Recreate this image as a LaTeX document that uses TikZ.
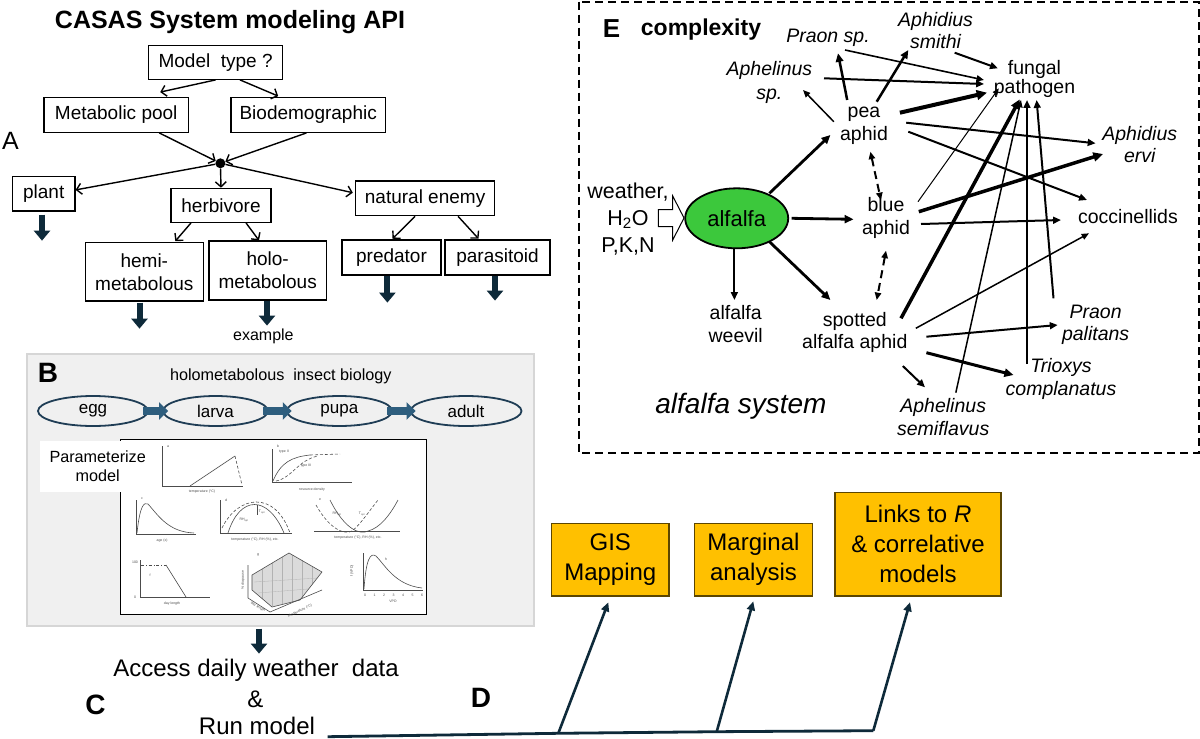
\documentclass[tikz,border=0pt]{standalone}
\usepackage{fontspec}
\setmainfont{Liberation Sans}
\usetikzlibrary{arrows.meta,calc,shapes.geometric}
\definecolor{navy}{HTML}{0E2A3A}
\definecolor{navytwo}{HTML}{1F3D55}
\definecolor{tealtwo}{HTML}{2E5E7E}
\definecolor{grayf}{HTML}{F0F0F0}
\definecolor{grayb}{HTML}{D6D6D6}
\definecolor{orangeY}{HTML}{FFC000}
\definecolor{obord}{HTML}{5C4600}
\definecolor{greenA}{HTML}{3CC83C}
\begin{document}
\begin{tikzpicture}[x=1pt,y=-1pt,
 box/.style={draw=black,line width=1.2pt,fill=white,inner sep=0pt,align=center,font=\fontsize{19}{23}\selectfont},
 aarr/.style={line width=1.4pt,-{Straight Barb[length=5pt,width=11pt]}},
 blockdown/.style={draw=navy,line width=6pt,-{Triangle[length=10pt,width=16pt]}},
 stagearr/.style={draw=tealtwo,line width=8pt,-{Triangle[length=9pt,width=17pt]}},
 stage/.style={ellipse,draw=navytwo,line width=1.8pt,inner sep=0pt,font=\fontsize{17}{20}\selectfont},
 obox/.style={draw=obord,fill=orangeY,line width=1.2pt,inner sep=0pt,align=center,font=\fontsize{24}{30}\selectfont},
 darr/.style={draw=navy,line width=2.6pt,-{Triangle[length=9pt,width=8pt]}},
 elab/.style={align=center,inner sep=0pt,font=\fontsize{19.5}{22.5}\selectfont},
 eit/.style={align=center,inner sep=0pt,font=\fontsize{19.5}{22.5}\selectfont\itshape},
 earr/.style={-{Triangle[length=5.5pt 1.2,width=4pt 1.4]}},
 edash/.style={{Triangle[length=5pt 1.2,width=3.5pt 1.4]}-{Triangle[length=5pt 1.2,width=3.5pt 1.4]},line width=2pt,dash pattern=on 8pt off 5pt},
 plotline/.style={draw=black!70,line width=0.6pt},
 tiny/.style={font=\fontsize{3.5}{4}\selectfont,inner sep=0pt,text=black!70}
]
\useasboundingbox (0,0) rectangle (1200,739);
\fill[white] (0,0) rectangle (1200,739);

% ---------------- Panel A
\node[font=\bfseries\fontsize{25}{28}\selectfont] (title) at (230,21.7) {CASAS System modeling API};
\node[font=\fontsize{25}{28}\selectfont] (labA) at (10.5,141) {A};
\node[box,minimum width=133.6pt,minimum height=34pt] (mt) at (215.6,62.3) {Model\ \ type ?};
\node[box,minimum width=144.3pt,minimum height=34.6pt] (mp) at (116.2,115) {Metabolic pool};
\node[box,minimum width=154.3pt,minimum height=34.6pt] (bd) at (308.2,115) {Biodemographic};
\node[circle,fill=black,inner sep=0pt,minimum size=10pt] (dot) at (220.4,163.3) {};
\node[box,minimum width=62.6pt,minimum height=34.3pt] (plant) at (43.7,193.9) {plant};
\node[box,minimum width=100pt,minimum height=34pt] (herb) at (221,205.3) {herbivore};
\node[box,minimum width=139.4pt,minimum height=34.7pt] (ne) at (425.1,198.4) {natural enemy};
\node[box,minimum width=117.8pt,minimum height=58.3pt] (hemi) at (144.3,271.9) {hemi-\\metabolous};
\node[box,minimum width=117.4pt,minimum height=59pt] (holo) at (267.7,270.5) {holo-\\metabolous};
\node[box,minimum width=99pt,minimum height=35pt] (pred) at (391.5,257.5) {predator};
\node[box,minimum width=105pt,minimum height=35pt] (para) at (497.5,257.5) {parasitoid};

\draw[aarr] (mt.south) -- ([shift={(44,-5)}]mp.north);
\draw[aarr] ([shift={(24.4,0)}]mt.south) -- ([shift={(-30,-1)}]bd.north);
\draw[aarr] ([shift={(43,0)}]mp.south) -- (dot);
\draw[aarr] ([shift={(-1.7,0)}]bd.south) -- (dot);
\draw[aarr] (dot) -- ([shift={(0,-4)}]plant.east);
\draw[aarr] (dot) -- (herb.north);
\draw[aarr] (dot) -- ([shift={(-2,-5.7)}]ne.west);
\draw[aarr] ([shift={(-30,0)}]herb.south) -- ([shift={(31,-1)}]hemi.north);
\draw[aarr] ([shift={(25,0)}]herb.south) -- ([shift={(-8.7,0)}]holo.north);
\draw[aarr] ([shift={(-10,0)}]ne.south) -- ([shift={(1,-0.7)}]pred.north);
\draw[aarr] ([shift={(33,0)}]ne.south) -- ([shift={(-19,-0.7)}]para.north);

\draw[blockdown] ([shift={(-1.7,3)}]plant.south) -- ++(0,26);
\draw[blockdown] ([shift={(-4.8,1)}]hemi.south) -- ++(0,26);
\draw[blockdown] ([shift={(-0.7,0)}]holo.south) -- ++(0,25);
\draw[blockdown] ([shift={(-4.1,0)}]pred.south) -- ++(0,27);
\draw[blockdown] ([shift={(-2.5,0)}]para.south) -- ++(0,25);
\node[font=\fontsize{16}{18}\selectfont] (example) at (263.4,336.7) {example};

% ---------------- Panel B
\node[draw=grayb,fill=grayf,line width=1.8pt,minimum width=507.4pt,minimum height=271.7pt,inner sep=0pt] (panelB) at (280.3,489.85) {};
\node[font=\bfseries\fontsize{28}{30}\selectfont] (labB) at (48,372.5) {B};
\node[font=\fontsize{16.2}{19}\selectfont] (btitle) at (280.8,376) {holometabolous\ \ insect biology};
\node[stage,minimum width=110pt,minimum height=30pt] (egg) at (93,411) {egg};
\node[stage,minimum width=105pt,minimum height=30pt] (larva) at (215.5,411) {larva};
\node[stage,minimum width=105.5pt,minimum height=30pt] (pupa) at (339.4,411) {pupa};
\node[stage,minimum width=111pt,minimum height=30pt] (adult) at (466,411) {adult};
\draw[stagearr] ([shift={(-6,0)}]egg.east) -- ([shift={(6,0)}]larva.west);
\draw[stagearr] ([shift={(-6,0)}]larva.east) -- ([shift={(6,0)}]pupa.west);
\draw[stagearr] ([shift={(-6,0)}]pupa.east) -- ([shift={(6,0)}]adult.west);

\node[draw=black,fill=white,line width=1.4pt,minimum width=306pt,minimum height=175pt,inner sep=0pt] (graphs) at (273.2,526.8) {};
% plot a
\draw[plotline] (162,446) -- (162,486) -- (243,486);
\draw[plotline] (190,486) -- (235,456);
\draw[plotline,densely dashed] (235,456) -- (242,485);
\node[tiny] at (168,447) {a}; \node[tiny] at (202,492) {temperature (°C)};
% plot b
\draw[plotline] (272,449) -- (272,482) -- (352,482);
\draw[plotline] (273,481) .. controls (281,462) and (292,457) .. (310,455);
\draw[plotline,densely dashed] (310,455) -- (340,454);
\draw[plotline,densely dashed] (276,481) .. controls (292,478) and (298,460) .. (318,456);
\node[tiny] at (278,446) {b}; \node[tiny] at (284,452) {type II}; \node[tiny] at (306,466) {type III};
\node[tiny] at (312,490) {resource density};
% plot c
\draw[plotline] (136,500) -- (136,534) -- (196,534);
\draw[plotline] (137,533) .. controls (140,505) and (144,502) .. (148,504) .. controls (158,515) and (168,532) .. (194,533);
\node[tiny] at (142,499) {c}; \node[tiny] at (162,541) {age (x)};
% plot d
\draw[plotline] (220,500) -- (220,533) -- (292,533);
\draw[plotline] (228,533) .. controls (240,495) and (268,495) .. (284,533);
\draw[plotline,densely dashed] (222,528) .. controls (238,495) and (275,490) .. (290,533);
\draw[plotline] (257,505) -- (257,515);
\node[tiny] at (226,500) {d}; \node[tiny] at (262,512) {T\textsubscript{opt}}; \node[tiny] at (244,520) {RH\textsubscript{opt}};
\node[tiny] at (255,540) {temperature (°C), RH (\%), etc.};
% plot e
\draw[plotline] (314,531) -- (400,531);
\draw[plotline] (330,500) .. controls (345,530) and (360,535) .. (368,531) .. controls (380,528) and (390,515) .. (398,500);
\draw[plotline,densely dashed] (316,505) .. controls (330,530) and (345,535) .. (352,531) .. controls (360,525) and (370,510) .. (378,500);
\node[tiny] at (320,500) {e}; \node[tiny] at (337,514) {RH\textsubscript{opt}}; \node[tiny] at (362,514) {T\textsubscript{opt}};
\node[tiny] at (358,538) {temperature (°C), RH (\%), etc.};
% plot f
\draw[plotline] (140,560) -- (140,597) -- (210,597);
\draw[plotline,dash dot] (141,565) -- (166,565);
\draw[plotline] (166,565) -- (186,597);
\node[tiny] at (135,562) {100}; \node[tiny] at (150,575) {f}; \node[tiny] at (135,597) {0};
\node[tiny] at (172,604) {day length};
% plot g
\fill[black!14] (252,575) -- (289,553) -- (322,572) -- (300,600) -- (272,607) -- (252,590) -- cycle;
\draw[black!30,line width=0.3pt] (262,569) -- (262,599) (272,563) -- (272,606) (282,557) -- (282,604) (292,555) -- (292,602) (302,560) -- (302,598) (312,566) -- (312,584);
\draw[black!30,line width=0.3pt] (254,582) -- (318,578) (258,593) -- (308,589);
\draw[plotline] (252,575) -- (289,553) -- (322,572) -- (300,600) -- (272,607) -- (252,590) -- cycle;
\draw[plotline] (248,565) -- (248,598) -- (270,612) -- (322,590);
\node[tiny] at (258,555) {g}; \node[tiny,rotate=90] at (243,580) {\% diapause};
\node[tiny,rotate=-30] at (258,607) {day length}; \node[tiny,rotate=25] at (300,611) {temperature (°C)};
% plot h
\draw[plotline] (363,553) -- (363,590) -- (423,590);
\draw[plotline] (364,589) .. controls (366,560) and (370,552) .. (376,556) .. controls (385,565) and (395,585) .. (422,588);
\foreach \i in {0,...,6} {\node[tiny] at (365+\i*9.5,595) {\i};}
\node[tiny] at (393,601) {VPD}; \node[tiny] at (386,559) {h}; \node[tiny,rotate=90] at (352,571) {f (VPD)};

\node[fill=white,minimum width=115.4pt,minimum height=50.7pt,align=center,inner sep=0pt,font=\fontsize{16.2}{19.5}\selectfont] (param) at (97.7,466.35) {Parameterize\\model};

\draw[blockdown] ([shift={(-21.3,2)}]panelB.south) -- ++(0,25);

% ---------------- Panel C
\node[font=\fontsize{24}{28}\selectfont] (access) at (256,670) {Access daily weather\ \ data};
\node[font=\fontsize{24}{28}\selectfont] (amp) at (255.3,699) {\&};
\node[font=\fontsize{24}{28}\selectfont] (run) at (257,726) {Run model};
\node[font=\bfseries\fontsize{28}{30}\selectfont] (labC) at (95.4,705) {C};
\node[font=\bfseries\fontsize{28}{30}\selectfont] (labD) at (481,698) {D};

% ---------------- Panel D
\node[obox,minimum width=117.3pt,minimum height=72.7pt] (gis) at (610.3,559.7) {GIS\\Mapping};
\node[obox,minimum width=118.4pt,minimum height=72.7pt] (marg) at (753.5,559.7) {Marginal\\analysis};
\node[obox,minimum width=166pt,minimum height=103.3pt] (links) at (918,544.3) {Links to \textit{R}\\\& correlative\\models};
\coordinate (j1) at (558.3,733.3);
\coordinate (j2) at (716.7,731.7);
\coordinate (j3) at (873.3,730.7);
\draw[navy,line width=2.8pt,line join=round] ([shift={(9,10.7)}]run.east) -- (j1) -- (j2) -- (j3);
\draw[darr] (j1) -- ([shift={(-2,5.7)}]gis.south);
\draw[darr] (j2) -- ([shift={(-0.2,4.7)}]marg.south);
\draw[darr] (j3) -- ([shift={(-8,5.7)}]links.south);

% ---------------- Panel E
\draw[line width=2pt,dash pattern=on 8pt off 5pt] (578.7,1.7) rectangle (1198.7,453.3);
\node[font=\bfseries\fontsize{26}{28}\selectfont] (labE) at (611.5,28.3) {E};
\node[font=\bfseries\fontsize{23}{26}\selectfont] (cx) at (701,30) {complexity};
\node[ellipse,draw=black,fill=greenA,line width=1.8pt,minimum width=103pt,minimum height=60pt,inner sep=0pt,font=\fontsize{22}{24}\selectfont] (alf) at (736.7,218.3) {alfalfa};
\node[align=center,inner sep=0pt,font=\fontsize{21.5}{27}\selectfont] (wx) at (628,219) {weather,\\H\textsubscript{2}O\\P,K,N};
\draw[line width=1pt,fill=white] (658.3,209.5) -- (672.7,209.5) -- (672.7,196) -- (684,218) -- (672.7,240) -- (672.7,226.5) -- (658.3,226.5) -- cycle;

\node[eit] (praonsp) at (828,38.3) {Praon sp.};
\node[eit] (asmithi) at (935.6,30.5) {Aphidius\\smithi};
\node[align=center,inner sep=0pt,font=\fontsize{19.5}{24}\selectfont\itshape] (aphsp) at (769.4,82.8) {Aphelinus\\sp.};
\node[align=center,inner sep=0pt,font=\fontsize{19.5}{14.5}\selectfont] (fungal) at (1034.5,78.8) {fungal\\pathogen};
\node[elab] (pea) at (864,125.8) {pea\\aphid};
\node[eit] (aervi) at (1139.7,144.5) {Aphidius\\ervi};
\node[elab] (blue) at (886,218) {blue\\aphid};
\node[elab] (cocc) at (1128,216.7) {coccinellids};
\node[elab] (weevil) at (735.7,324.2) {alfalfa\\weevil};
\node[elab] (spotted) at (854.8,332.5) {spotted\\alfalfa aphid};
\node[eit] (ppal) at (1095.6,325) {Praon\\palitans};
\node[eit] (trioxys) at (1061,379.2) {Trioxys\\complanatus};
\node[eit] (asemi) at (943.2,417.2) {Aphelinus\\semiflavus};
\node[font=\fontsize{28}{30}\selectfont\itshape] (sys) at (741,406) {alfalfa system};

\draw[earr,line width=2.8pt] ([shift={(32.7,-25)}]alf.center) -- ([shift={(-33.6,9.2)}]pea.center);
\draw[earr,line width=2.8pt] ([shift={(55,0)}]alf.center) -- ([shift={(-32.5,1.3)}]blue.center);
\draw[earr,line width=2.8pt] ([shift={(32.7,23.4)}]alf.center) -- ([shift={(-24.4,-32.5)}]spotted.center);
\draw[earr,line width=2pt] ([shift={(-2.3,30)}]alf.center) -- ([shift={(-1.3,-24.2)}]weevil.center);
\draw[edash] ([shift={(6.4,25.9)}]pea.center) -- ([shift={(-5.1,-18)}]blue.center);
\draw[edash] ([shift={(0,32.7)}]blue.center) -- ([shift={(21.9,-32.5)}]spotted.center);
\draw[earr,line width=1.5pt] ([shift={(-30.2,-4.1)}]pea.center) -- ([shift={(33.6,7.2)}]aphsp.center);
\draw[earr,line width=2.5pt] ([shift={(-16.8,-25.8)}]pea.center) -- ([shift={(10,15)}]praonsp.center);
\draw[earr,line width=2.5pt] ([shift={(12.7,-24.1)}]pea.center) -- ([shift={(-27.3,19.5)}]asmithi.center);
\draw[earr,line width=4pt] ([shift={(35.9,-13.1)}]pea.center) -- ([shift={(-47.5,13.9)}]fungal.center);
\draw[earr,line width=2pt] ([shift={(42.2,-3.1)}]pea.center) -- ([shift={(-44.1,-1.2)}]aervi.center);
\draw[earr,line width=2pt] ([shift={(44.3,5.9)}]pea.center) -- ([shift={(-41,-16.7)}]cocc.center);
\draw[earr,line width=1.6pt] ([shift={(17,11.7)}]praonsp.center) -- ([shift={(-50.5,1.2)}]fungal.center);
\draw[earr,line width=2pt] ([shift={(19,22.2)}]asmithi.center) -- ([shift={(-36.6,-10.5)}]fungal.center);
\draw[earr,line width=2pt] ([shift={(54.6,-4.5)}]aphsp.center) -- ([shift={(-50.5,5.2)}]fungal.center);
\draw[earr,line width=1pt] ([shift={(32,-16.3)}]blue.center) -- ([shift={(-35.7,9.5)}]fungal.center);
\draw[earr,line width=3.5pt] ([shift={(32.8,-6.3)}]blue.center) -- ([shift={(-36.7,9.5)}]aervi.center);
\draw[earr,line width=2pt] ([shift={(35,6)}]blue.center) -- ([shift={(-67,3.3)}]cocc.center);
\draw[earr,line width=3.5pt] ([shift={(46.2,-14.2)}]spotted.center) -- ([shift={(-14.7,20.5)}]fungal.center);
\draw[earr,line width=1.5pt] ([shift={(61,-4.2)}]spotted.center) -- ([shift={(-39,16.6)}]cocc.center);
\draw[earr,line width=2pt] ([shift={(71.6,4.2)}]spotted.center) -- ([shift={(-37.9,0)}]ppal.center);
\draw[earr,line width=3pt] ([shift={(71.6,20.2)}]spotted.center) -- ([shift={(-47.5,-4.2)}]trioxys.center);
\draw[earr,line width=2pt] ([shift={(48,33.5)}]spotted.center) -- ([shift={(-18.2,-29.9)}]asemi.center);
\draw[earr,line width=1.5pt] ([shift={(12.6,-24.5)}]asemi.center) -- ([shift={(-13.5,21.2)}]fungal.center);
\draw[earr,line width=2pt] ([shift={(-34,-15.2)}]trioxys.center) -- ([shift={(-7.5,21.2)}]fungal.center);
\draw[earr,line width=2pt] ([shift={(-42.1,-26.7)}]ppal.center) -- ([shift={(2.1,21.2)}]fungal.center);
\end{tikzpicture}
\end{document}
